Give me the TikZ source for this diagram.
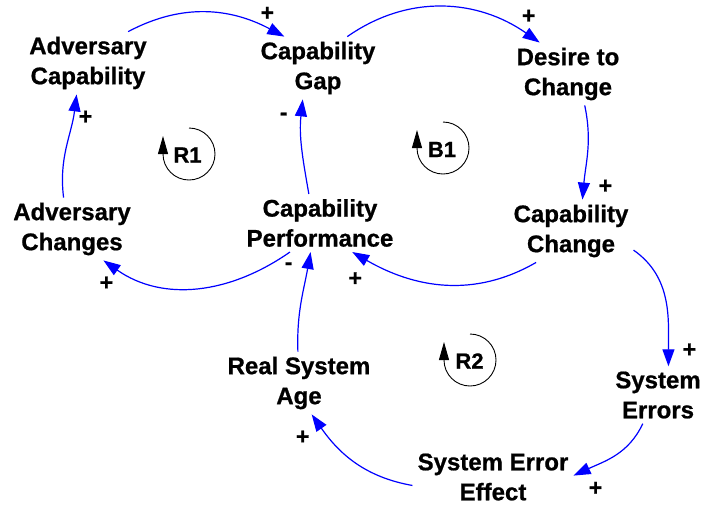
\documentclass[tikz,border=0pt]{standalone}
\usepackage{fontspec}
\setmainfont{Liberation Sans}[BoldFeatures={FakeBold=0.8}]
\usetikzlibrary{arrows, arrows.meta}

\tikzset{
  var/.style={align=center, inner sep=5pt, font=\bfseries\fontsize{24}{30}\selectfont},
  sign/.style={inner sep=0pt, font=\bfseries\fontsize{23}{23}\selectfont},
  link/.style={-{Triangle[length=17pt,width=12pt]}, draw=blue, line width=1.2pt},
  loopname/.style={font=\bfseries\fontsize{22}{22}\selectfont},
  loopmark/.style={-{Triangle[length=18pt,width=10pt]}, line width=0.9pt}
}

\begin{document}
\begin{tikzpicture}[x=1pt,y=1pt]
  \useasboundingbox (0,0) rectangle (701,-504);

  % variables
  \node[var] (advcap)  at (88,-63)   {Adversary\\Capability};
  \node[var] (capgap)  at (318,-68)  {Capability\\Gap};
  \node[var] (desire)  at (568,-74)  {Desire to\\Change};
  \node[var] (capchg)  at (571,-231) {Capability\\Change};
  \node[var] (capperf) at (320,-223) {Capability\\Performance};
  \node[var] (advchg)  at (72,-229)  {Adversary\\Changes};
  \node[var] (age)     at (299,-383) {Real System\\Age};
  \node[var] (errors)  at (658,-395) {System\\Errors};
  \node[var] (effect)  at (493,-477) {System Error\\Effect};

  % links
  \path
    (advcap.38) edge[link, out=28, in=152] node[sign, pos=1, xshift=-17pt, yshift=23pt] {+} (capgap.137)
    (capgap.47) edge[link, out=35, in=145] node[sign, pos=1, xshift=-11pt, yshift=26pt] {+} (desire.132)
    (desire.-62) edge[link, out=-78, in=85] node[sign, pos=1, xshift=23pt, yshift=13pt] {+} (capchg.70)
    (capchg.-138) edge[link, out=-150, in=-30] node[sign, pos=1, xshift=3pt, yshift=-27pt] {+} (capperf.-42)
    (capperf.-136) edge[link, out=-145, in=-35] node[sign, pos=1, xshift=3pt, yshift=-23pt] {+} (advchg.-45)
    (capperf.111) edge[link, out=100, in=-96] node[sign, pos=1, xshift=-19pt, yshift=-17pt] {-} (capgap.-116)
    (advchg.105) edge[link, out=97, in=-97] node[sign, pos=1, xshift=9pt, yshift=-23pt] {+} (advcap.-110)
    (age.92) edge[link, out=92, in=-100] node[sign, pos=1, xshift=-22pt, yshift=-14pt] {-} (capperf.-108)
    (capchg.-17) edge[link, out=-35, in=90] node[sign, pos=1, xshift=21pt, yshift=16pt] {+} (errors.70)
    (errors.-118) edge[link, out=-115, in=25] node[sign, pos=1, xshift=22pt, yshift=-13pt] {+} (effect.1)
    (effect.186) edge[link, out=170, in=-55] node[sign, pos=1, xshift=-9pt, yshift=-23pt] {+} (age.-68);

  % loops
  \node[loopname] (r1) at (187.5,-155) {R1};
  \draw[loopmark] (189,-128) arc[start angle=90, end angle=-180, radius=26] -- ++(0,18);
  \node[loopname] (b1) at (442,-149.5) {B1};
  \draw[loopmark] (443,-122) arc[start angle=90, end angle=-180, radius=26] -- ++(0,18);
  \node[loopname] (r2) at (469.5,-361) {R2};
  \draw[loopmark] (470,-334) arc[start angle=90, end angle=-180, radius=26] -- ++(0,18);
\end{tikzpicture}
\end{document}
